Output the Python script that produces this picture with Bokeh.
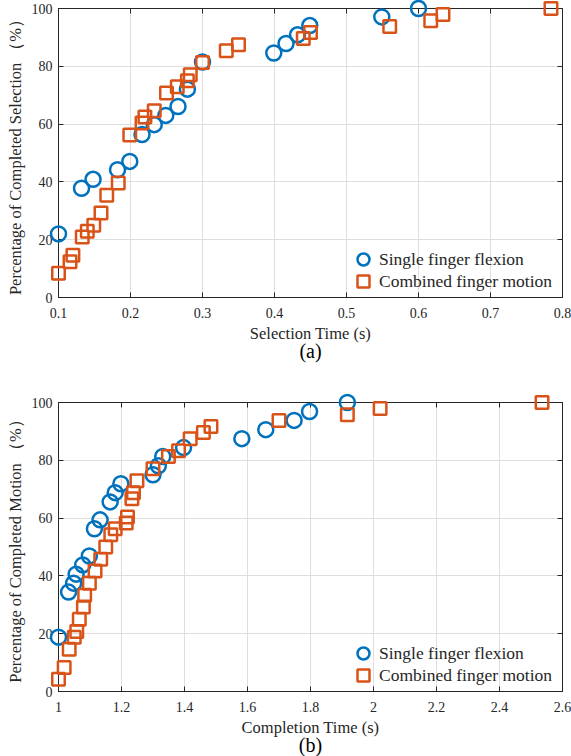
from bokeh.plotting import figure
from bokeh.layouts import column
from bokeh.models import Range1d, LinearAxis, FixedTicker, Legend, LegendItem
from bokeh.core.properties import value
from bokeh.embed import file_html
from bokeh.resources import INLINE

# ---- panel (a): selection time ----
sel_single_t = [0.100, 0.132, 0.148, 0.182, 0.199, 0.216, 0.233, 0.249, 0.266, 0.279,
                0.300, 0.399, 0.416, 0.432, 0.449, 0.549, 0.600]
sel_single_p = [22.0, 37.8, 40.9, 44.2, 47.1, 56.4, 59.8, 63.0, 66.1, 72.1,
                81.5, 84.6, 87.9, 90.9, 94.1, 97.1, 100.0]
sel_comb_t = [0.100, 0.116, 0.120, 0.133, 0.140, 0.149, 0.159, 0.167, 0.183, 0.199,
              0.216, 0.220, 0.233, 0.250, 0.265, 0.279, 0.283, 0.300, 0.333, 0.350,
              0.440, 0.450, 0.560, 0.617, 0.634, 0.784]
sel_comb_p = [8.4, 12.4, 14.6, 20.9, 22.9, 25.0, 29.2, 35.4, 39.6, 56.2,
              60.4, 62.5, 64.6, 70.8, 72.9, 75.0, 77.1, 81.3, 85.4, 87.5,
              89.6, 91.7, 93.8, 95.8, 97.9, 100.0]
sel_ticks = [0.1, 0.2, 0.3, 0.4, 0.5, 0.6, 0.7, 0.8]
sel_tick_labels = ["0.1", "0.2", "0.3", "0.4", "0.5", "0.6", "0.7", "0.8"]

# ---- panel (b): completion time ----
comp_single_t = [1.000, 1.032, 1.048, 1.056, 1.077, 1.098, 1.114, 1.132, 1.164, 1.180,
                 1.198, 1.300, 1.317, 1.331, 1.397, 1.582, 1.658, 1.748, 1.797, 1.917]
comp_single_p = [18.8, 34.4, 37.5, 40.6, 43.8, 46.9, 56.3, 59.4, 65.6, 68.8,
                 71.9, 75.0, 78.1, 81.3, 84.4, 87.5, 90.6, 93.8, 96.9, 100.0]
comp_comb_t = [1.000, 1.018, 1.034, 1.050, 1.058, 1.066, 1.079, 1.083, 1.098, 1.116,
               1.134, 1.150, 1.166, 1.180, 1.215, 1.219, 1.233, 1.238, 1.249, 1.300,
               1.349, 1.381, 1.418, 1.460, 1.484, 1.700, 1.917, 2.021, 2.535]
comp_comb_p = [4.2, 8.3, 14.6, 18.8, 20.8, 25.0, 29.2, 33.3, 37.5, 41.7,
               45.8, 50.0, 54.2, 56.3, 58.3, 60.4, 66.7, 68.8, 72.9, 77.1,
               81.3, 83.3, 87.5, 89.6, 91.7, 93.8, 95.8, 97.9, 100.0]
comp_ticks = [1.0, 1.2, 1.4, 1.6, 1.8, 2.0, 2.2, 2.4, 2.6]
comp_tick_labels = ["1", "1.2", "1.4", "1.6", "1.8", "2", "2.2", "2.4", "2.6"]

pct_ticks = [0, 20, 40, 60, 80, 100]

BLUE = "#0072BD"
ORANGE = "#D95319"
INK = "#262626"
FONT = "Liberation Serif"


def style_axis(ax, ticks, labels=None, show_labels=True):
    ax.ticker = FixedTicker(ticks=ticks)
    if labels is not None:
        ax.major_label_overrides = dict(zip(ticks, labels))
    ax.major_tick_in = 5
    ax.major_tick_out = 0
    ax.minor_tick_in = 0
    ax.minor_tick_out = 0
    ax.axis_line_color = INK
    ax.major_tick_line_color = INK
    ax.major_label_text_font = FONT
    if show_labels:
        ax.major_label_text_color = INK
        ax.major_label_text_font_size = "14px"
    else:
        # mirrored tick marks only, no numbers
        ax.major_label_text_color = None
        ax.major_label_text_font_size = "1px"
        ax.major_label_standoff = 0


def make_panel(single_t, single_p, comb_t, comb_p, xr, xticks, xlabels,
               xtitle, ytitle, tag, top, bottom):
    p = figure(width=571, height=378, x_range=Range1d(*xr), y_range=Range1d(0, 100),
               output_backend="svg", toolbar_location=None,
               min_border_left=58, min_border_right=9,
               min_border_top=top, min_border_bottom=bottom)
    p.outline_line_color = INK
    p.outline_line_alpha = 1.0

    style_axis(p.xaxis[0], xticks, xlabels)
    style_axis(p.yaxis[0], pct_ticks)
    p.xaxis[0].major_label_standoff = 10
    p.yaxis[0].major_label_standoff = 6

    p.xaxis[0].axis_label = xtitle
    p.yaxis[0].axis_label = ytitle
    for ax in (p.xaxis[0], p.yaxis[0]):
        ax.axis_label_text_font = FONT
        ax.axis_label_text_font_style = "normal"
        ax.axis_label_text_font_size = "16.5px"
        ax.axis_label_text_color = INK
    p.xaxis[0].axis_label_standoff = 3
    p.yaxis[0].axis_label_standoff = 4

    top_ax = LinearAxis()
    style_axis(top_ax, xticks, show_labels=False)
    right_ax = LinearAxis()
    style_axis(right_ax, pct_ticks, show_labels=False)
    p.add_layout(top_ax, "above")
    p.add_layout(right_ax, "right")

    # panel tag under the axis title, anchored at the bottom-centre of the axes
    p.text(x=[(xr[0] + xr[1]) / 2], y=[0], text=[tag], y_offset=53,
           text_align="center", text_baseline="middle",
           text_font=value(FONT), text_font_size="20px", text_color="black",
           level="overlay")

    p.xgrid.ticker = FixedTicker(ticks=xticks)
    p.ygrid.ticker = FixedTicker(ticks=pct_ticks)
    for g in (p.xgrid, p.ygrid):
        g.grid_line_color = "#dedede"
        g.grid_line_width = 1

    r1 = p.scatter(single_t, single_p, marker="circle", size=15, fill_color=None,
                   line_color=BLUE, line_width=2.5, level="overlay")
    r2 = p.scatter(comb_t, comb_p, marker="square", size=12.5, fill_color=None,
                   line_color=ORANGE, line_width=2.5, level="overlay")

    # one legend per row so the glyph box can be large while rows stay close
    legend_rows = [("Single finger flexion", r1, 23), ("Combined finger motion", r2, 1)]
    for label, rend, y0 in legend_rows:
        lg = Legend(items=[LegendItem(label=label, renderers=[rend])],
                    location=(290, y0), border_line_alpha=0, background_fill_alpha=0,
                    label_text_font=FONT, label_text_font_size="17.5px",
                    label_text_color=INK, glyph_width=30, glyph_height=30,
                    padding=0, margin=0, label_standoff=1)
        p.add_layout(lg)
    return p


pa = make_panel(sel_single_t, sel_single_p, sel_comb_t, sel_comb_p, (0.1, 0.8),
                sel_ticks, sel_tick_labels, "Selection Time (s)",
                "Percentage of Completed Selection （%）", "(a)", 8, 81)
pb = make_panel(comp_single_t, comp_single_p, comp_comb_t, comp_comb_p, (1.0, 2.6),
                comp_ticks, comp_tick_labels, "Completion Time (s)",
                "Percentage of Completed Motion （%）", "(b)", 24, 65)

layout = column(pa, pb, spacing=0)
open("out.html", "w").write(file_html(layout, INLINE))
